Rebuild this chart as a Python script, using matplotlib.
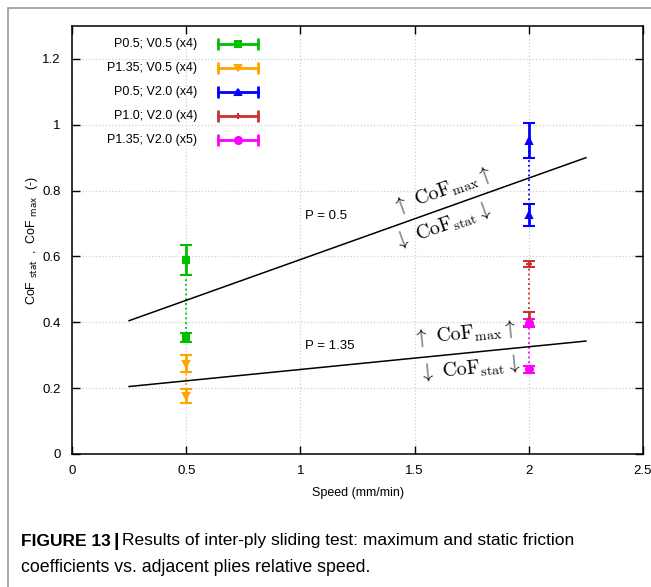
import matplotlib
matplotlib.use("Agg")
import matplotlib.pyplot as plt
from matplotlib.patches import Rectangle

plt.rcParams['font.family'] = ['Liberation Sans', 'DejaVu Sans']

# data: speed (mm/min), CoF value, error half-width
speeds = [0.5, 0.5, 2.0, 2.0, 2.0]
labels = ['P0.5; V0.5 (x4)', 'P1.35; V0.5 (x4)', 'P0.5; V2.0 (x4)',
          'P1.0; V2.0 (x4)', 'P1.35; V2.0 (x5)']
cof_max = [0.589, 0.274, 0.952, 0.577, 0.399]
err_max = [0.046, 0.026, 0.052, 0.008, 0.012]
cof_stat = [0.354, 0.176, 0.725, 0.410, 0.257]
err_stat = [0.014, 0.022, 0.033, 0.020, 0.011]
colors = ['#00c000', '#ffa500', '#0000ff', '#c83232', '#ff00ff']
markers = ['s', 'v', '^', '+', 'o']

# separation lines
line_speed = [0.25, 2.25]
line_p05 = [0.405, 0.90]
line_p135 = [0.205, 0.343]

fig = plt.figure(figsize=(6.51, 5.87), dpi=100)
ax = fig.add_axes([72 / 651, 1 - 454 / 587, 571 / 651, 428 / 587])

# frame around the figure panel
fig.patches.append(Rectangle((8 / 651, -0.1), 1.2, 1 - 8 / 587 + 0.1,
                             transform=fig.transFigure, fill=False,
                             edgecolor='#9a9a9a', lw=1.2))

for i in range(len(speeds)):
    c = colors[i]
    ax.plot([speeds[i], speeds[i]], [cof_max[i], cof_stat[i]], ':', color=c, lw=1.3, zorder=2)
    ax.errorbar([speeds[i], speeds[i]], [cof_max[i], cof_stat[i]],
                yerr=[err_max[i], err_stat[i]], fmt=markers[i], color=c,
                ms=5, mew=1.5, elinewidth=2, capsize=4, capthick=2, zorder=3)

ax.plot(line_speed, line_p05, color='black', lw=1.1)
ax.plot(line_speed, line_p135, color='black', lw=1.1)

ax.text(1.02, 0.715, 'P = 0.5', fontsize=9.5)
ax.text(1.02, 0.32, 'P = 1.35', fontsize=9.5)
ax.text(1.62, 0.80, r'$\uparrow\ \mathrm{CoF}_{\mathrm{max}}\uparrow$', fontsize=14.5,
        rotation=19.7, ha='center', va='center', math_fontfamily='cm')
ax.text(1.62, 0.695, r'$\downarrow\ \mathrm{CoF}_{\mathrm{stat}}\downarrow$', fontsize=14.5,
        rotation=19.7, ha='center', va='center', math_fontfamily='cm')
ax.text(1.72, 0.365, r'$\uparrow\ \mathrm{CoF}_{\mathrm{max}}\uparrow$', fontsize=14.5,
        rotation=5.7, ha='center', va='center', math_fontfamily='cm')
ax.text(1.74, 0.262, r'$\downarrow\ \mathrm{CoF}_{\mathrm{stat}}\downarrow$', fontsize=14.5,
        rotation=5.7, ha='center', va='center', math_fontfamily='cm')

# key, gnuplot style
row_px = [43.5, 67.5, 91.5, 115.8, 140]
for i in range(len(labels)):
    yk = (454 - row_px[i]) / 428
    ax.text((197 - 72) / 571, yk, labels[i], transform=ax.transAxes,
            ha='right', va='center', fontsize=9)
    x0, x1 = (218 - 72) / 571, (258 - 72) / 571
    ax.plot([x0, x1], [yk, yk], color=colors[i], lw=2, transform=ax.transAxes)
    ax.plot([x0, x1], [yk, yk], '|', color=colors[i], ms=9, mew=2, transform=ax.transAxes)
    ax.plot([(x0 + x1) / 2], [yk], markers[i], color=colors[i], ms=5, mew=1.5,
            transform=ax.transAxes)

ax.set_xlim(0, 2.5)
ax.set_ylim(0, 1.3)
ax.set_xticks([0, 0.5, 1, 1.5, 2, 2.5])
ax.set_xticklabels(['0', '0.5', '1', '1.5', '2', '2.5'])
ax.set_yticks([0, 0.2, 0.4, 0.6, 0.8, 1, 1.2])
ax.set_yticklabels(['0', '0.2', '0.4', '0.6', '0.8', '1', '1.2'])
ax.tick_params(direction='in', length=6, width=1, top=True, right=True,
               labelsize=9.5, pad=8)
ax.grid(True, color='#d0d0d0', ls=':', lw=0.9)
ax.set_axisbelow(True)
for s in ax.spines.values():
    s.set_linewidth(1.1)

ax.set_xlabel('Speed (mm/min)', fontsize=9, labelpad=7)
ax.set_ylabel(r'CoF $_{\rm stat}$  ,  CoF $_{\rm max}$  (-)', fontsize=9, labelpad=2)

# caption
cap_y1 = 1 - 541 / 587
t1 = fig.text(21 / 651, cap_y1, 'FIGURE 13', fontsize=12.5, fontweight='bold', va='center')
renderer = fig.canvas.get_renderer()
bb = t1.get_window_extent(renderer)
t2 = fig.text(bb.x1 / 651 + 3 / 651, cap_y1, '|', fontsize=14, fontweight='bold', va='center')
bb2 = t2.get_window_extent(renderer)
fig.text(bb2.x1 / 651 + 3 / 651, cap_y1,
         'Results of inter-ply sliding test: maximum and static friction',
         fontsize=12.5, va='center')
fig.text(21 / 651, 1 - 567 / 587, 'coefficients vs. adjacent plies relative speed.',
         fontsize=12.8, va='center')

fig.savefig('out.png', dpi=100)
